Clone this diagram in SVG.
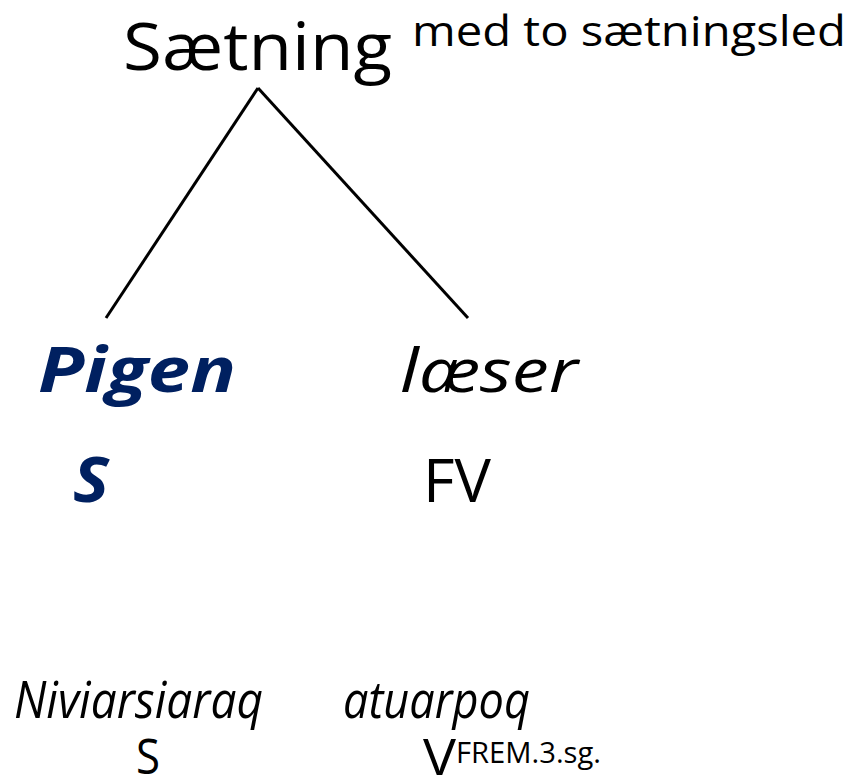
<svg xmlns="http://www.w3.org/2000/svg" width="853" height="775" viewBox="0 0 853 775">
<style>
text{font-family:"Open Sans","Noto Sans","DejaVu Sans",sans-serif;fill:#000}
.navy{fill:#002060;font-weight:bold;font-style:italic}
.it{font-style:italic}
.edge{stroke:#000;stroke-width:3;fill:none}
</style>
<rect width="853" height="775" fill="#fff"/>
<g id="connectors">
<line class="edge" x1="258" y1="88" x2="106" y2="318"/>
<line class="edge" x1="258" y1="88" x2="468" y2="318"/>
</g>
<g id="root">
<text x="123" y="70" font-size="66" textLength="269" lengthAdjust="spacingAndGlyphs">Sætning</text>
<text x="412" y="46" font-size="42" textLength="434" lengthAdjust="spacingAndGlyphs">med to sætningsled</text>
</g>
<g id="pigen">
<text class="navy" x="38" y="392" font-size="62" textLength="198" lengthAdjust="spacingAndGlyphs">Pigen</text>
<text class="navy" x="73" y="502" font-size="62" font-style="normal" textLength="36" lengthAdjust="spacingAndGlyphs">S</text>
</g>
<g id="laeser">
<text class="it" x="400" y="392" font-size="60" textLength="178" lengthAdjust="spacingAndGlyphs">læser</text>
<text x="423" y="502" font-size="60" textLength="68" lengthAdjust="spacingAndGlyphs">FV</text>
</g>
<g id="niviarsiaraq">
<text class="it" x="14" y="718" font-size="52" textLength="249" lengthAdjust="spacingAndGlyphs">Niviarsiaraq</text>
<text x="136" y="774" font-size="50" textLength="24" lengthAdjust="spacingAndGlyphs">S</text>
</g>
<g id="atuarpoq">
<text class="it" x="343" y="718" font-size="52" textLength="187" lengthAdjust="spacingAndGlyphs">atuarpoq</text>
<text x="423" y="776" font-size="52" textLength="33" lengthAdjust="spacingAndGlyphs">V</text>
<text x="456" y="763" font-size="30" textLength="145" lengthAdjust="spacingAndGlyphs">FREM.3.sg.</text>
</g>
</svg>
